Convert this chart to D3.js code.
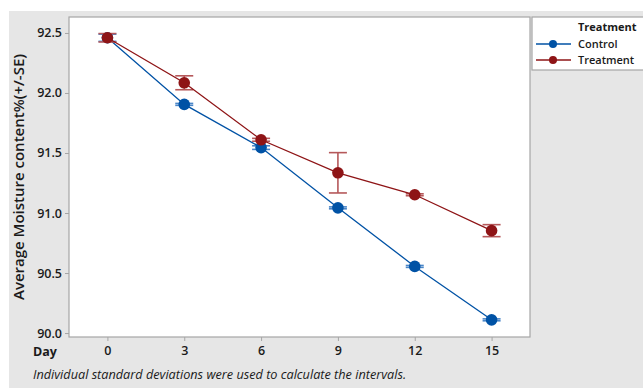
<!DOCTYPE html>
<html>
<head>
<meta charset="utf-8">
<script src="https://cdn.jsdelivr.net/npm/d3@7"></script>
<style>
  body { margin: 0; background: #fff; }
  text { font-family: "Open Sans", "Noto Sans", sans-serif; }
</style>
</head>
<body>
<svg id="chart"></svg>
<script>
// data
var days = [0, 3, 6, 9, 12, 15]
var controlMean = [92.46, 91.905, 91.545, 91.043, 90.555, 90.11]
var controlSE = [0.03, 0.008, 0.015, 0.008, 0.008, 0.008]
var treatMean = [92.46, 92.085, 91.61, 91.335, 91.152, 90.853]
var treatSE = [0.035, 0.058, 0.012, 0.168, 0.008, 0.05]
var yTicks = [90.0, 90.5, 91.0, 91.5, 92.0, 92.5]
var seriesNames = ["Control", "Treatment"]

var W = 643, H = 389
var plot = {left: 69, top: 17, right: 530, bottom: 337}

var svg = d3.select("#chart").attr("width", W).attr("height", H)

// gray panel
svg.append("rect").attr("x", 9).attr("y", 11).attr("width", W - 9).attr("height", 377)
    .attr("fill", "#e6e6e6")

svg.append("rect").attr("x", plot.left).attr("y", plot.top)
    .attr("width", plot.right - plot.left).attr("height", plot.bottom - plot.top)
    .attr("fill", "#fff").attr("stroke", "#a6a6a6").attr("stroke-width", 1.2)

var x = d3.scaleLinear().domain([-1.5, 16.5]).range([plot.left, plot.right])
var y = d3.scaleLinear().domain([89.967, 92.633]).range([plot.bottom, plot.top])

var xAxis = svg.append("g")
    .attr("transform", "translate(0," + plot.bottom + ")")
    .call(d3.axisBottom(x).tickValues(days).tickSize(4).tickPadding(5).tickFormat(d3.format("d")))
var yAxis = svg.append("g")
    .attr("transform", "translate(" + plot.left + ",0)")
    .call(d3.axisLeft(y).tickValues(yTicks).tickSize(4).tickPadding(3).tickFormat(d3.format(".1f")))

;[xAxis, yAxis].forEach(function(g) {
    g.select(".domain").remove()
    g.selectAll(".tick line").attr("stroke", "#a6a6a6")
    g.selectAll(".tick text").attr("fill", "#1a1a1a").attr("font-size", 12.5)
        .style("font-family", "'Open Sans', sans-serif").attr("font-weight", 600)
})

svg.append("text").attr("x", 33).attr("y", 356).attr("font-size", 12.5)
    .attr("font-weight", 700).attr("fill", "#1a1a1a").text("Day")

svg.append("text")
    .attr("transform", "translate(24," + ((plot.top + plot.bottom) / 2) + ") rotate(-90)")
    .attr("text-anchor", "middle").attr("font-size", 15).attr("font-weight", 600)
    .attr("fill", "#1a1a1a").text("Average Moisture content%(+/-SE)")

svg.append("text").attr("x", 33).attr("y", 379).attr("font-size", 12.7)
    .attr("font-style", "italic").attr("fill", "#1a1a1a")
    .text("Individual standard deviations were used to calculate the intervals.")

var series = [
    {name: seriesNames[0], mean: controlMean, se: controlSE, color: "#0052a5", bar: "#4a86c8"},
    {name: seriesNames[1], mean: treatMean, se: treatSE, color: "#8e1416", bar: "#b5585a"}
]

var line = d3.line().x(function(d) { return x(d.day) }).y(function(d) { return y(d.m) })

series.forEach(function(s) {
    var pts = days.map(function(d, i) { return {day: d, m: s.mean[i], se: s.se[i]} })
    var g = svg.append("g")
    // error bars
    var eb = g.selectAll(".eb").data(pts).enter().append("g").attr("stroke", s.bar).attr("stroke-width", 1.6)
    eb.append("line").attr("x1", function(d) { return x(d.day) }).attr("x2", function(d) { return x(d.day) })
        .attr("y1", function(d) { return y(d.m - d.se) }).attr("y2", function(d) { return y(d.m + d.se) })
    eb.append("line").attr("x1", function(d) { return x(d.day) - 9 }).attr("x2", function(d) { return x(d.day) + 9 })
        .attr("y1", function(d) { return y(d.m + d.se) }).attr("y2", function(d) { return y(d.m + d.se) })
    eb.append("line").attr("x1", function(d) { return x(d.day) - 9 }).attr("x2", function(d) { return x(d.day) + 9 })
        .attr("y1", function(d) { return y(d.m - d.se) }).attr("y2", function(d) { return y(d.m - d.se) })
    g.append("path").datum(pts).attr("d", line).attr("fill", "none")
        .attr("stroke", s.color).attr("stroke-width", 1.3)
    g.selectAll("circle").data(pts).enter().append("circle")
        .attr("cx", function(d) { return x(d.day) }).attr("cy", function(d) { return y(d.m) })
        .attr("r", 5.8).attr("fill", s.color)
})

// legend
var lg = svg.append("g")
lg.append("rect").attr("x", 532).attr("y", 17).attr("width", 120).attr("height", 53)
    .attr("fill", "#fff").attr("stroke", "#a6a6a6").attr("stroke-width", 1.2)
lg.append("text").attr("x", 578).attr("y", 31).attr("font-size", 11).attr("font-weight", 700)
    .attr("fill", "#1a1a1a").text("Treatment")
series.forEach(function(s, i) {
    var yy = 44 + i * 16
    lg.append("line").attr("x1", 536).attr("x2", 571).attr("y1", yy).attr("y2", yy)
        .attr("stroke", s.color).attr("stroke-width", 1.3)
    lg.append("circle").attr("cx", 553).attr("cy", yy).attr("r", 4).attr("fill", s.color)
    lg.append("text").attr("x", 578).attr("y", yy + 4).attr("font-size", 11).attr("font-weight", 600)
        .attr("fill", "#1a1a1a").text(s.name)
})
</script>
</body>
</html>
